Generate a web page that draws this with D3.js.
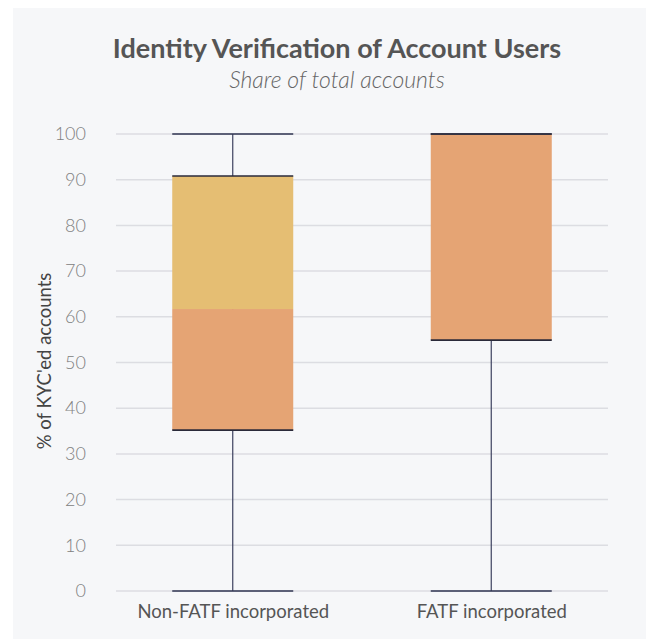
<!DOCTYPE html>
<html>
<head>
<meta charset="utf-8">
<script src="https://cdn.jsdelivr.net/npm/d3@7"></script>
<style>
  body { margin: 0; background: #fff; }
  svg { display: block; font-family: Lato, "Open Sans", sans-serif; }
</style>
</head>
<body>
<div id="chart"></div>
<script>
const categories = ["Non-FATF incorporated", "FATF incorporated"];
const mins = [0, 0];
const q1s = [35.2, 54.9];
const medians = [61.7, 100];
const q3s = [90.8, 100];
const maxs = [100, 100];
const yTicks = [0, 10, 20, 30, 40, 50, 60, 70, 80, 90, 100];

const boxes = categories.map((c, i) => ({
  cat: c, min: mins[i], q1: q1s[i], med: medians[i], q3: q3s[i], max: maxs[i]
}));

const width = 646, height = 639;
const margin = { left: 116, right: 38, top: 134, bottom: 48 };

const svg = d3.select("#chart")
  .append("svg")
  .attr("width", width)
  .attr("height", height);

// card background
svg.append("rect")
  .attr("x", 13).attr("y", 8)
  .attr("width", width - 13).attr("height", height - 8)
  .attr("fill", "#f6f7f9");

const y = d3.scaleLinear()
  .domain([0, 100])
  .range([height - margin.bottom, margin.top]);

const x = d3.scalePoint()
  .domain(categories)
  .range([margin.left, width - margin.right])
  .padding(0.4516);

const boxW = 121;

// gridlines
svg.append("g")
  .selectAll("line")
  .data(yTicks)
  .join("line")
  .attr("x1", margin.left)
  .attr("x2", width - margin.right)
  .attr("y1", d => y(d))
  .attr("y2", d => y(d))
  .attr("stroke", "#dcdde2")
  .attr("stroke-width", 1.5);

// y axis labels
const yAxis = svg.append("g")
  .attr("transform", "translate(86,0)")
  .call(d3.axisLeft(y).tickValues(yTicks).tickSize(0).tickPadding(0));
yAxis.select(".domain").remove();
yAxis.selectAll("text")
  .attr("font-size", 18)
  .attr("font-family", "Lato, sans-serif")
  .attr("font-weight", 300)
  .attr("fill", "#808080");

// x axis labels
const xAxis = svg.append("g")
  .attr("transform", `translate(0,${height - margin.bottom + 11})`)
  .call(d3.axisBottom(x).tickSize(0).tickPadding(0));
xAxis.select(".domain").remove();
xAxis.selectAll("text")
  .attr("font-size", 18.5)
  .attr("font-family", "Lato, sans-serif")
  .attr("fill", "#555")
  .attr("dy", "0.85em");

const g = svg.append("g")
  .selectAll("g")
  .data(boxes)
  .join("g");

// whiskers
g.append("line")
  .attr("x1", d => x(d.cat)).attr("x2", d => x(d.cat))
  .attr("y1", d => y(d.min)).attr("y2", d => y(d.max))
  .attr("stroke", "#3d4260").attr("stroke-width", 1.2);

// lower box
g.append("rect")
  .attr("x", d => x(d.cat) - boxW / 2)
  .attr("width", boxW)
  .attr("y", d => y(d.med))
  .attr("height", d => y(d.q1) - y(d.med))
  .attr("fill", "#e5a474");

// upper box
g.append("rect")
  .attr("x", d => x(d.cat) - boxW / 2)
  .attr("width", boxW)
  .attr("y", d => y(d.q3))
  .attr("height", d => y(d.med) - y(d.q3))
  .attr("fill", "#e5be73");

// caps & quartile edges
["min", "max", "q1", "q3"].forEach(k => {
  g.append("line")
    .attr("x1", d => x(d.cat) - boxW / 2)
    .attr("x2", d => x(d.cat) + boxW / 2)
    .attr("y1", d => y(d[k]))
    .attr("y2", d => y(d[k]))
    .attr("stroke", k === "q1" || k === "q3" ? "#2a2a3a" : "#2f3452")
    .attr("stroke-width", 1.6);
});

// y axis title
svg.append("text")
  .attr("transform", "translate(51,361) rotate(-90)")
  .attr("text-anchor", "middle")
  .attr("font-size", 18.5)
  .attr("fill", "#444")
  .text("% of KYC'ed accounts");

// title
svg.append("text")
  .attr("x", 337).attr("y", 58)
  .attr("text-anchor", "middle")
  .attr("font-size", 27)
  .attr("font-weight", 700)
  .attr("fill", "#555")
  .text("Identity Verification of Account Users");

svg.append("text")
  .attr("x", 337).attr("y", 88)
  .attr("text-anchor", "middle")
  .attr("font-size", 23)
  .attr("font-style", "italic")
  .attr("font-weight", 300)
  .attr("fill", "#666")
  .text("Share of total accounts");
</script>
</body>
</html>
